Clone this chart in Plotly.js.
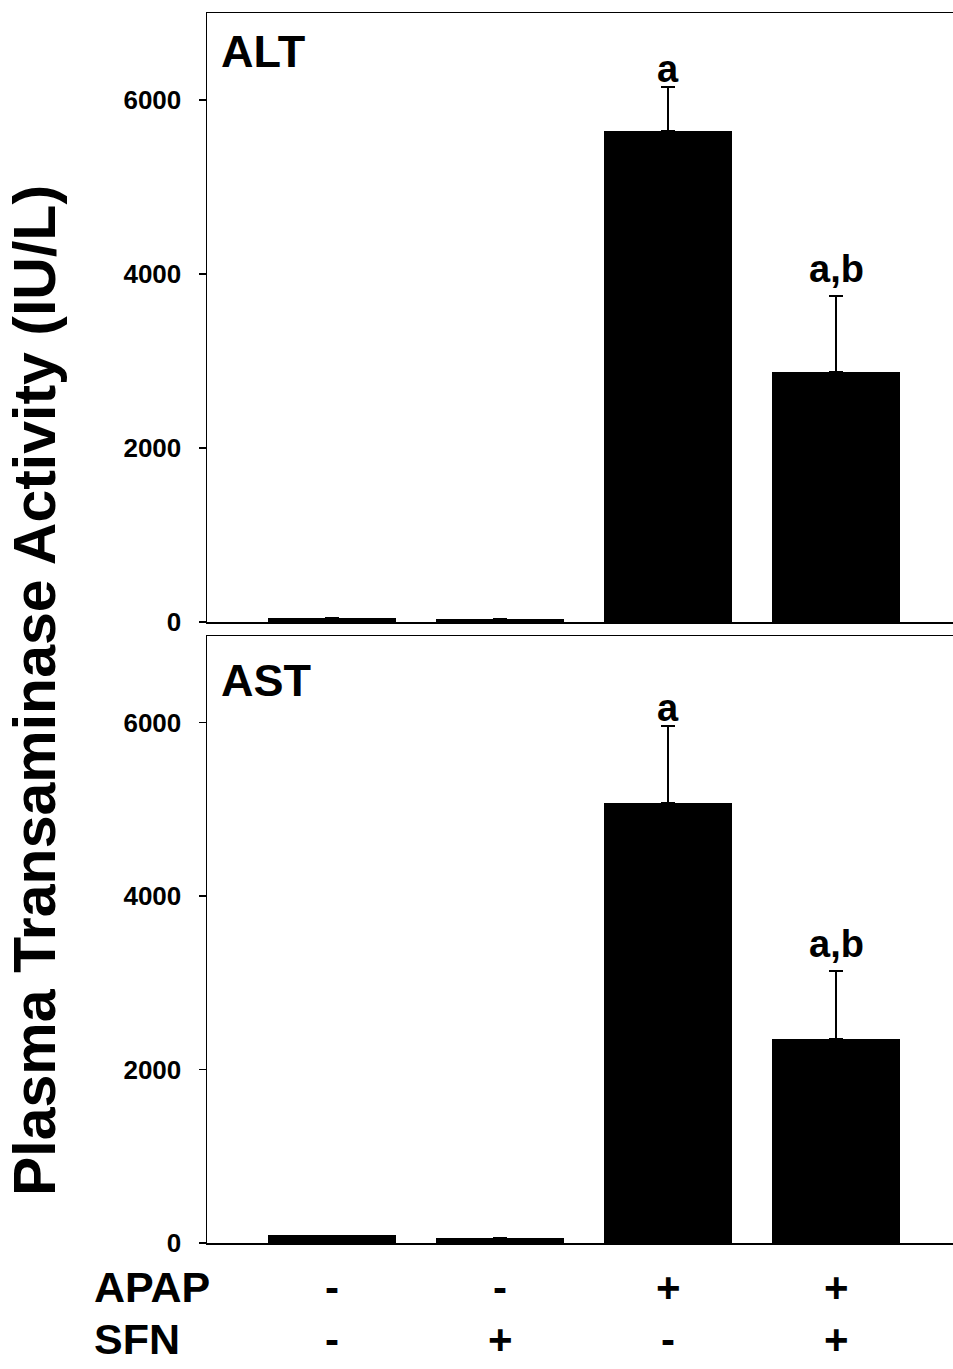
<!DOCTYPE html>
<html><head><meta charset="utf-8">
<script src="https://cdn.plot.ly/plotly-3.0.1.min.js"></script>
<style>html,body{margin:0;padding:0;background:#fff}#chart{width:953px;height:1369px}</style>
</head><body><div id="chart"></div>
<script>
const groups = [0, 1, 2, 3];
const apap = ['-', '-', '+', '+'];
const sfn = ['-', '+', '-', '+'];
const altMean = [45, 38, 5645, 2875];
const altErr = [0, 0, 505, 875];
const altSig = ['', '', 'a', 'a,b'];
const astMean = [88, 62, 5075, 2350];
const astErr = [0, 0, 890, 785];
const astSig = ['', '', 'a', 'a,b'];
const yTicks = [0, 2000, 4000, 6000];
const panelNames = ['ALT', 'AST'];
const rowNames = ['APAP', 'SFN'];
const yTitle = 'Plasma Transaminase Activity (IU/L)';

const FONT = 'Liberation Sans, Arial, Helvetica, sans-serif';
const W = 953, H = 1369, ML = 207, MR = 0, MT = 13, MB = 126;
const PW = W - ML - MR, PH = H - MT - MB;
const px2x = p => (p - ML) / PW;
const px2y = p => (H - MB - p) / PH;

function barTrace(mean, err, xa, ya) {
  return {
    type: 'bar', x: groups, y: mean, xaxis: xa, yaxis: ya, width: 0.76,
    marker: {color: '#000', line: {width: 0}},
    error_y: {type: 'data', symmetric: false, array: err, arrayminus: err.map(() => 0),
      color: '#000', thickness: 1.5, width: 7},
    showlegend: false, hoverinfo: 'none'
  };
}

const xCommon = {
  range: [-0.744, 3.696], showline: true, mirror: true, linecolor: '#000', linewidth: 1.5,
  showticklabels: false, ticks: '', showgrid: false, zeroline: false, fixedrange: true
};
const yCommon = {
  range: [0, 7000], tickvals: yTicks, ticktext: yTicks.map(String), ticks: 'outside', ticklen: 7,
  tickwidth: 1.5, tickcolor: '#000', showline: true, linecolor: '#000', linewidth: 1.5,
  showgrid: false, zeroline: false, ticklabelstandoff: 12,
  tickfont: {family: FONT, size: 26, color: '#000', weight: 'bold'}
};

const annotations = [];
function sigAnn(sig, mean, err, xref, yref) {
  sig.forEach((s, i) => {
    if (!s) return;
    annotations.push({
      xref: xref, yref: yref, x: groups[i], y: mean[i] + err[i], text: s, showarrow: false,
      xanchor: 'center', yanchor: 'bottom', yshift: s.indexOf(',') >= 0 ? 4 : -5,
      font: {family: FONT, size: 38, color: '#000', weight: 'bold'}
    });
  });
}
sigAnn(altSig, altMean, altErr, 'x', 'y');
sigAnn(astSig, astMean, astErr, 'x2', 'y2');

[[panelNames[0], 24], [panelNames[1], 653]].forEach(([t, top]) => {
  annotations.push({xref: 'paper', yref: 'paper', x: px2x(219), y: px2y(top), text: t,
    showarrow: false, xanchor: 'left', yanchor: 'top',
    font: {family: FONT, size: 45, color: '#000', weight: 'bold'}});
});

const rowsY = [1287, 1339];
[apap, sfn].forEach((row, r) => {
  annotations.push({xref: 'paper', yref: 'paper', x: px2x(92), y: px2y(rowsY[r]), text: rowNames[r],
    showarrow: false, xanchor: 'left', yanchor: 'middle',
    font: {family: FONT, size: 43, color: '#000', weight: 'bold'}});
  row.forEach((s, i) => {
    annotations.push({xref: 'x2', yref: 'paper', x: groups[i], y: px2y(rowsY[r]), text: s,
      showarrow: false, xanchor: 'center', yanchor: 'middle',
      font: {family: FONT, size: 42, color: '#000', weight: 'bold'}});
  });
});

annotations.push({xref: 'paper', yref: 'paper', x: px2x(35), y: px2y(691), text: yTitle,
  textangle: -90, showarrow: false, xanchor: 'center', yanchor: 'middle',
  font: {family: FONT, size: 59, color: '#000', weight: 'bold'}});

const layout = {
  width: W, height: H, margin: {l: ML, r: MR, t: MT, b: MB, pad: 0},
  paper_bgcolor: '#fff', plot_bgcolor: '#fff', showlegend: false, bargap: 0,
  xaxis: Object.assign({}, xCommon, {domain: [0, 1], anchor: 'y'}),
  yaxis: Object.assign({}, yCommon, {domain: [px2y(622), 1], anchor: 'x'}),
  xaxis2: Object.assign({}, xCommon, {domain: [0, 1], anchor: 'y2'}),
  yaxis2: Object.assign({}, yCommon, {domain: [0, px2y(636)], anchor: 'x2'}),
  annotations: annotations
};

Plotly.newPlot('chart', [barTrace(altMean, altErr, 'x', 'y'), barTrace(astMean, astErr, 'x2', 'y2')],
  layout, {staticPlot: true, displayModeBar: false});
</script></body></html>
